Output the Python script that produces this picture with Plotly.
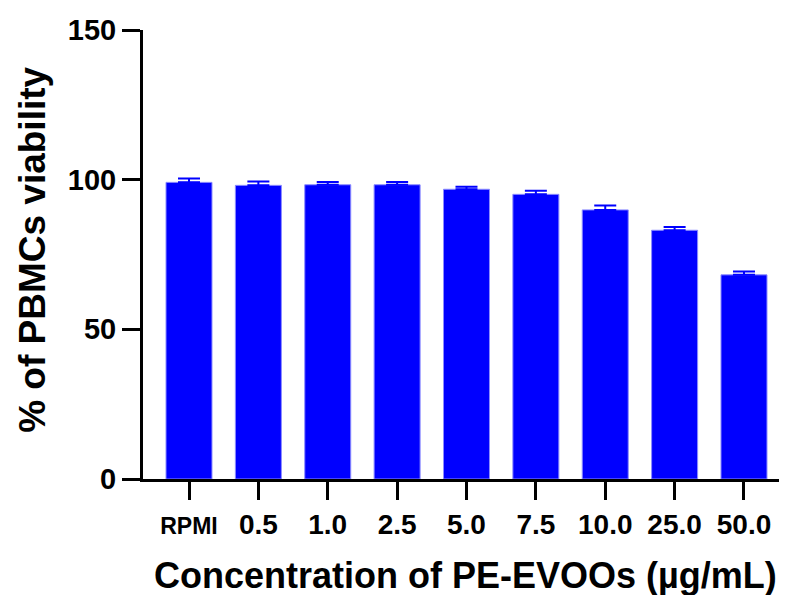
import plotly.graph_objects as go

categories = ["RPMI", "0.5", "1.0", "2.5", "5.0", "7.5", "10.0", "25.0", "50.0"]
viability = [99.1, 98.1, 98.3, 98.3, 96.8, 95.1, 89.9, 83.1, 68.2]
sem = [1.3, 1.3, 0.9, 0.9, 0.8, 1.2, 1.5, 1.1, 1.1]
y_ticks = [0, 50, 100, 150]
x_title = "Concentration of PE-EVOOs (µg/mL)"
y_title = "% of PBMCs viability"

tick_text = ['<span style="font-size:23px">RPMI</span>' if c == "RPMI" else c for c in categories]

FONT = "Arial, 'Liberation Sans', sans-serif"

fig = go.Figure()
fig.add_trace(go.Bar(
    x=categories, y=viability,
    width=0.663,
    marker=dict(color="#0000FF", line=dict(color="#8c8cff", width=1)),
    error_y=dict(type="data", array=sem, symmetric=False, arrayminus=[0]*len(sem),
                 color="#0000FF", thickness=2, width=11),
))

# the page body has an 8px margin, so the figure is shrunk by 8px and shifted
fig.update_layout(
    width=779, height=587,
    margin=dict(l=135, r=0, t=22, b=116),
    plot_bgcolor="white", paper_bgcolor="white",
    showlegend=False,
    font=dict(family=FONT, color="black"),
)
fig.update_xaxes(
    type="category", automargin=False,
    range=[-0.663, 8.62],
    tickmode="array", tickvals=categories, ticktext=tick_text,
    ticks="outside", ticklen=18, tickwidth=3, tickcolor="black",
    showline=True, linewidth=3, linecolor="black",
    showgrid=False, zeroline=False,
    tickfont=dict(family=FONT, size=28, color="black", weight="bold"),
)
fig.update_yaxes(
    range=[0, 150], automargin=False,
    tickmode="array", tickvals=y_ticks,
    ticks="outside", ticklen=18, tickwidth=3, tickcolor="black",
    showline=True, linewidth=3, linecolor="black",
    showgrid=False, zeroline=False,
    tickfont=dict(family=FONT, size=29, color="black", weight="bold"),
)
fig.add_annotation(text="<b>" + x_title + "</b>", xref="paper", yref="paper",
                   x=0.5, y=-0.216, xanchor="center", yanchor="middle",
                   showarrow=False, font=dict(family=FONT, size=36, color="black"))
fig.add_annotation(text="<b>" + y_title + "</b>", xref="paper", yref="paper",
                   x=-0.1726, y=0.51, xanchor="center", yanchor="middle", textangle=-90,
                   showarrow=False, font=dict(family=FONT, size=37, color="black"))

fig.write_html("out.html")
